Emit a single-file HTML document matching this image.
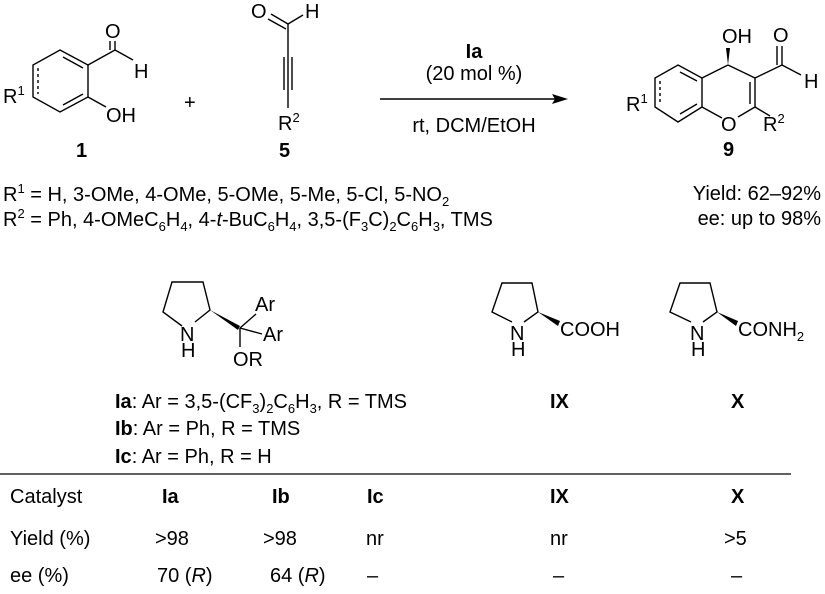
<!DOCTYPE html>
<html><head><meta charset="utf-8"><style>
html,body{margin:0;padding:0;background:#fff;}
svg{display:block;font-family:"Liberation Sans",Arial,sans-serif;}
text{font-size:20px;fill:#000;}
.s{font-size:13px;}
</style></head><body>
<svg width="825" height="594" viewBox="0 0 825 594" xmlns="http://www.w3.org/2000/svg">
<g stroke="#000" stroke-width="1.4" fill="none">
<!-- compound 1 -->
<polygon points="60,50 88,65 88,97 60,112 33,97 33,65"/>
<line x1="63" y1="57" x2="83" y2="68"/>
<line x1="83" y1="94" x2="63" y2="105"/>
<line x1="38" y1="68" x2="38" y2="94" stroke-dasharray="3,3"/>
<line x1="88" y1="65" x2="115" y2="50"/>
<line x1="115" y1="50" x2="115" y2="41"/>
<line x1="110" y1="50" x2="110" y2="41"/>
<line x1="115" y1="50" x2="133" y2="60"/>
<line x1="88" y1="97" x2="106" y2="107"/>
<!-- compound 5 -->
<line x1="271" y1="14" x2="288" y2="24"/>
<line x1="268" y1="19" x2="286" y2="29"/>
<line x1="288" y1="24" x2="303" y2="15"/>
<line x1="288" y1="24" x2="288" y2="108"/>
<line x1="284" y1="57" x2="284" y2="90"/>
<line x1="292" y1="57" x2="292" y2="90"/>
<!-- arrow -->
<line x1="380" y1="99" x2="560" y2="99"/>
<!-- compound 9 -->
<polygon points="678,65 702,78 702,107 678,122 655,107 655,78"/>
<line x1="680" y1="72" x2="697" y2="81"/>
<line x1="697" y1="104" x2="680" y2="114"/>
<line x1="660" y1="81" x2="660" y2="104" stroke-dasharray="3,3"/>
<line x1="702" y1="78" x2="728" y2="65"/>
<line x1="728" y1="65" x2="755" y2="78"/>
<line x1="755" y1="78" x2="755" y2="107"/>
<line x1="750" y1="82" x2="750" y2="104"/>
<line x1="755" y1="107" x2="738" y2="117"/>
<line x1="702" y1="107" x2="722" y2="118"/>
<line x1="755" y1="78" x2="782" y2="65"/>
<line x1="782" y1="65" x2="782" y2="46"/>
<line x1="777" y1="65" x2="777" y2="46"/>
<line x1="782" y1="65" x2="801" y2="75"/>
<line x1="755" y1="107" x2="770" y2="116"/>
<!-- catalyst Ia -->
<polyline points="182,326 163,312 172,282 203,282 210,310 195,322"/>
<line x1="240" y1="328" x2="256" y2="314"/>
<line x1="240" y1="328" x2="262" y2="334"/>
<line x1="240" y1="328" x2="240" y2="347"/>
<!-- IX -->
<polyline points="512,322 492,312 502,283 532,283 538,312 524,322"/>
<!-- X -->
<polyline points="691,322 670,312 680,283 710,283 717,312 703,322"/>
<!-- table line -->
<line x1="0" y1="474" x2="791" y2="474" stroke-width="1.2"/>
</g>
<g fill="#000">
<polygon points="568,99 552,94 555,99 552,104"/>
<polygon points="728,65 726,48 730,48"/>
<polygon points="210,310 240,326 238,330"/>
<polygon points="538,312 560,321 558,326"/>
<polygon points="717,312 738,321 736,326"/>
</g>
<!-- labels -->
<text x="105" y="38">O</text>
<text x="134" y="78">H</text>
<text x="106" y="122">OH</text>
<text x="3" y="103">R<tspan class="s" dy="-8">1</tspan></text>
<text x="184" y="109">+</text>
<text x="76" y="157" font-weight="bold">1</text>
<text x="251" y="18">O</text>
<text x="305" y="18">H</text>
<text x="278" y="130">R<tspan class="s" dy="-8">2</tspan></text>
<text x="279" y="157" font-weight="bold">5</text>
<text x="474" y="58" text-anchor="middle" font-weight="bold">Ia</text>
<text x="474" y="80" text-anchor="middle">(20 mol %)</text>
<text x="474" y="132" text-anchor="middle">rt, DCM/EtOH</text>
<text x="722" y="43">OH</text>
<text x="773" y="42">O</text>
<text x="804" y="88">H</text>
<text x="721" y="131">O</text>
<text x="763" y="131">R<tspan class="s" dy="-8">2</tspan></text>
<text x="626" y="111">R<tspan class="s" dy="-8">1</tspan></text>
<text x="723" y="156" font-weight="bold">9</text>
<text x="3" y="201">R<tspan class="s" dy="-8">1</tspan><tspan dy="8"> = H, 3-OMe, 4-OMe, 5-OMe, 5-Me, 5-Cl, 5-NO</tspan><tspan class="s" dy="5">2</tspan></text>
<text x="3" y="226">R<tspan class="s" dy="-8">2</tspan><tspan dy="8"> = Ph, 4-OMeC</tspan><tspan class="s" dy="5">6</tspan><tspan dy="-5">H</tspan><tspan class="s" dy="5">4</tspan><tspan dy="-5">, 4-</tspan><tspan font-style="italic">t</tspan><tspan>-BuC</tspan><tspan class="s" dy="5">6</tspan><tspan dy="-5">H</tspan><tspan class="s" dy="5">4</tspan><tspan dy="-5">, 3,5-(F</tspan><tspan class="s" dy="5">3</tspan><tspan dy="-5">C)</tspan><tspan class="s" dy="5">2</tspan><tspan dy="-5">C</tspan><tspan class="s" dy="5">6</tspan><tspan dy="-5">H</tspan><tspan class="s" dy="5">3</tspan><tspan dy="-5">, TMS</tspan></text>
<text x="821" y="200" text-anchor="end">Yield: 62–92%</text>
<text x="821" y="225" text-anchor="end">ee: up to 98%</text>
<text x="180" y="341">N</text>
<text x="181" y="357">H</text>
<text x="255" y="311">Ar</text>
<text x="263" y="341">Ar</text>
<text x="233" y="366">OR</text>
<text x="510" y="340">N</text>
<text x="511" y="356">H</text>
<text x="560" y="336">COOH</text>
<text x="690" y="340">N</text>
<text x="691" y="356">H</text>
<text x="738" y="336">CONH<tspan class="s" dy="5">2</tspan></text>
<text x="115" y="408"><tspan font-weight="bold">Ia</tspan>: Ar = 3,5-(CF<tspan class="s" dy="5">3</tspan><tspan dy="-5">)</tspan><tspan class="s" dy="5">2</tspan><tspan dy="-5">C</tspan><tspan class="s" dy="5">6</tspan><tspan dy="-5">H</tspan><tspan class="s" dy="5">3</tspan><tspan dy="-5">, R = TMS</tspan></text>
<text x="115" y="435"><tspan font-weight="bold">Ib</tspan>: Ar = Ph, R = TMS</text>
<text x="115" y="463"><tspan font-weight="bold">Ic</tspan>: Ar = Ph, R = H</text>
<text x="550" y="408" font-weight="bold">IX</text>
<text x="731" y="408" font-weight="bold">X</text>
<text x="10" y="503">Catalyst</text>
<text x="162" y="503" font-weight="bold">Ia</text>
<text x="272" y="503" font-weight="bold">Ib</text>
<text x="367" y="503" font-weight="bold">Ic</text>
<text x="550" y="503" font-weight="bold">IX</text>
<text x="731" y="503" font-weight="bold">X</text>
<text x="10" y="545">Yield (%)</text>
<text x="155" y="545">&gt;98</text>
<text x="263" y="545">&gt;98</text>
<text x="366" y="545">nr</text>
<text x="550" y="545">nr</text>
<text x="724" y="545">&gt;5</text>
<text x="10" y="582">ee (%)</text>
<text x="157" y="582">70 (<tspan font-style="italic">R</tspan>)</text>
<text x="270" y="582">64 (<tspan font-style="italic">R</tspan>)</text>
<text x="367" y="582">–</text>
<text x="553" y="582">–</text>
<text x="731" y="582">–</text>
</svg>
</body></html>
